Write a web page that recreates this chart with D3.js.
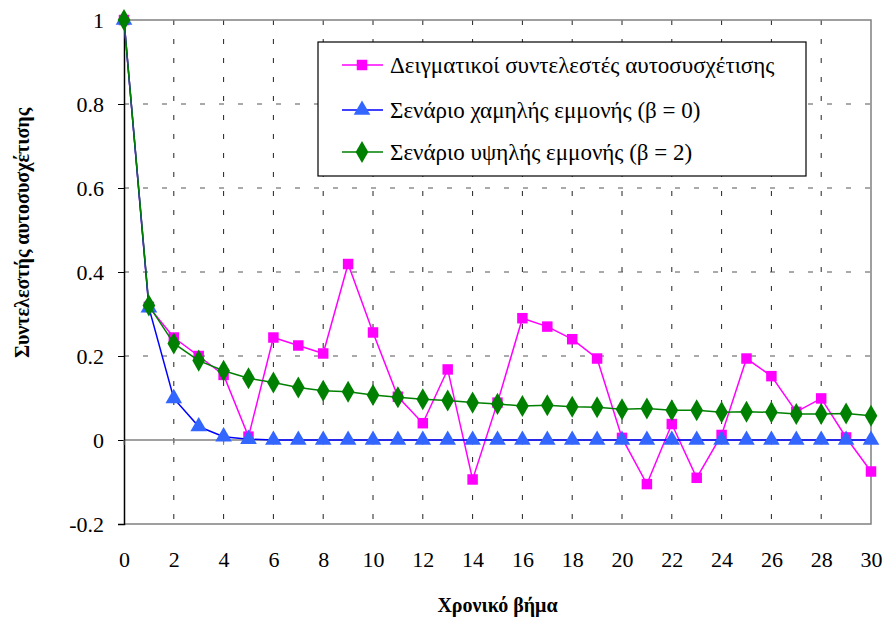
<!DOCTYPE html>
<html>
<head>
<meta charset="utf-8">
<script src="https://cdn.jsdelivr.net/npm/d3@7/dist/d3.min.js"></script>
<style>
  html, body { margin: 0; padding: 0; background: #fff; }
  svg { display: block; }
</style>
</head>
<body>
<svg id="chart" width="887" height="622"></svg>
<script>
// ---- Data ----
const lags = d3.range(0, 31);
const sampleAcf = [1, 0.317, 0.244, 0.2, 0.155, 0.008, 0.244, 0.225, 0.206, 0.419, 0.256,
  0.103, 0.04, 0.168, -0.094, 0.089, 0.29, 0.27, 0.24, 0.194, 0.005,
  -0.105, 0.038, -0.09, 0.012, 0.194, 0.152, 0.067, 0.099, 0.006, -0.075];
const lowPersistence = [1, 0.315, 0.099, 0.032, 0.008, 0.002, 0, 0, 0, 0, 0,
  0, 0, 0, 0, 0, 0, 0, 0, 0, 0,
  0, 0, 0, 0, 0, 0, 0, 0, 0, 0];
const highPersistence = [1, 0.32, 0.23, 0.189, 0.165, 0.147, 0.137, 0.125, 0.117, 0.115, 0.107,
  0.102, 0.097, 0.094, 0.089, 0.086, 0.081, 0.083, 0.079, 0.078, 0.073,
  0.075, 0.071, 0.071, 0.066, 0.067, 0.066, 0.062, 0.062, 0.063, 0.058];
const xTicks = d3.range(0, 31, 2);
const yTicks = [-0.2, 0, 0.2, 0.4, 0.6, 0.8, 1];
const yTickLabels = ["-0.2", "0", "0.2", "0.4", "0.6", "0.8", "1"];
const seriesNames = [
  "Δειγματικοί συντελεστές αυτοσυσχέτισης",
  "Σενάριο χαμηλής εμμονής (β = 0)",
  "Σενάριο υψηλής εμμονής (β = 2)"
];
const xTitle = "Χρονικό βήμα";
const yTitle = "Συντελεστής αυτοσυσχέτισης";

// ---- Layout ----
const svg = d3.select("#chart");
const L = 124, R = 871, T = 20, B = 524;
const x = d3.scaleLinear().domain([0, 30]).range([L, R]);
const y = d3.scaleLinear().domain([-0.2, 1]).range([B, T]);

function serif(sel, size, bold) {
  sel.each(function () {
    this.style.setProperty("font-family", "Liberation Serif", "important");
    this.style.setProperty("font-size", size + "px", "important");
    this.style.setProperty("font-weight", bold ? "bold" : "normal", "important");
    this.style.setProperty("fill", "#000", "important");
  });
  return sel;
}

// Grid
const grid = svg.append("g");
grid.selectAll("line.v").data(xTicks.filter(d => d > 0 && d < 30)).join("line")
  .attr("x1", d => x(d)).attr("x2", d => x(d)).attr("y1", T).attr("y2", B)
  .attr("stroke", "#222").attr("stroke-width", 1).attr("stroke-dasharray", "5,14");
grid.selectAll("line.h").data(yTicks.filter(d => d > -0.2 && d < 1 && d !== 0)).join("line")
  .attr("x1", L).attr("x2", R).attr("y1", d => y(d)).attr("y2", d => y(d))
  .attr("stroke", "#555").attr("stroke-width", 1).attr("stroke-dasharray", "5,14");

// Plot border (top, right, bottom)
svg.append("path")
  .attr("d", `M${L},${T}H${R}V${B}H${L}`)
  .attr("fill", "none").attr("stroke", "#808080").attr("stroke-width", 1.5);

// Zero line (x axis)
svg.append("line").attr("x1", L).attr("x2", R).attr("y1", y(0)).attr("y2", y(0))
  .attr("stroke", "#808080").attr("stroke-width", 1.5);

// Y axis
const yAxis = d3.axisLeft(y).tickValues(yTicks).tickSize(6).tickPadding(14)
  .tickFormat((d, i) => yTickLabels[i]);
const gy = svg.append("g").attr("transform", `translate(${L},0)`).call(yAxis);
gy.attr("font-family", "Liberation Serif");
gy.select(".domain").attr("stroke", "#000").attr("stroke-width", 1.5);
gy.selectAll(".tick line").attr("stroke", "#000");
serif(gy.selectAll("text"), 22, false);

// X axis labels (low position)
const xAxis = d3.axisBottom(x).tickValues(xTicks).tickSize(0).tickPadding(0);
const gx = svg.append("g").attr("transform", `translate(0,${B + 27})`).call(xAxis);
gx.attr("font-family", "Liberation Serif");
gx.select(".domain").remove();
serif(gx.selectAll("text"), 22, false);
svg.append("g").selectAll("line").data(xTicks).join("line")
  .attr("x1", d => x(d)).attr("x2", d => x(d)).attr("y1", y(0)).attr("y2", y(0) + 5)
  .attr("stroke", "#808080");

// Titles
serif(svg.append("text").attr("x", (L + R) / 2).attr("y", 612).attr("text-anchor", "middle")
  .text(xTitle), 20, true);
serif(svg.append("text").attr("transform", `translate(29,233) rotate(-90)`)
  .attr("text-anchor", "middle").text(yTitle), 20, true);

// Series
const line = d3.line().x((d, i) => x(lags[i])).y(d => y(d));
const series = [
  { data: sampleAcf, stroke: "#FF00FF", fill: "#FF00FF", sym: d3.symbolSquare, size: 110 },
  { data: lowPersistence, stroke: "#0000FF", fill: "#3366FF", sym: d3.symbolTriangle, size: 120 },
  { data: highPersistence, stroke: "#008000", fill: "#008000", sym: d3.symbolDiamond, size: 140 }
];
series.forEach(s => {
  svg.append("path").datum(s.data).attr("d", line)
    .attr("fill", "none").attr("stroke", s.stroke).attr("stroke-width", 1.5);
  svg.append("g").selectAll("path").data(s.data).join("path")
    .attr("transform", (d, i) => `translate(${x(lags[i])},${y(d)})`)
    .attr("d", d3.symbol().type(s.sym).size(s.size))
    .attr("fill", s.fill);
});

// Legend
const lg = svg.append("g");
lg.append("rect").attr("x", 318).attr("y", 42).attr("width", 488).attr("height", 134)
  .attr("fill", "#fff").attr("stroke", "#000").attr("stroke-width", 1.2);
const rowsY = [65, 110, 152];
series.forEach((s, i) => {
  lg.append("line").attr("x1", 342).attr("x2", 383).attr("y1", rowsY[i]).attr("y2", rowsY[i])
    .attr("stroke", s.stroke).attr("stroke-width", 1.5);
  lg.append("path").attr("transform", `translate(362,${rowsY[i]})`)
    .attr("d", d3.symbol().type(s.sym).size(s.size)).attr("fill", s.fill);
  serif(lg.append("text").attr("x", 390).attr("y", rowsY[i]).attr("dy", "0.35em")
    .text(seriesNames[i]), 23, false);
});
</script>
</body>
</html>
